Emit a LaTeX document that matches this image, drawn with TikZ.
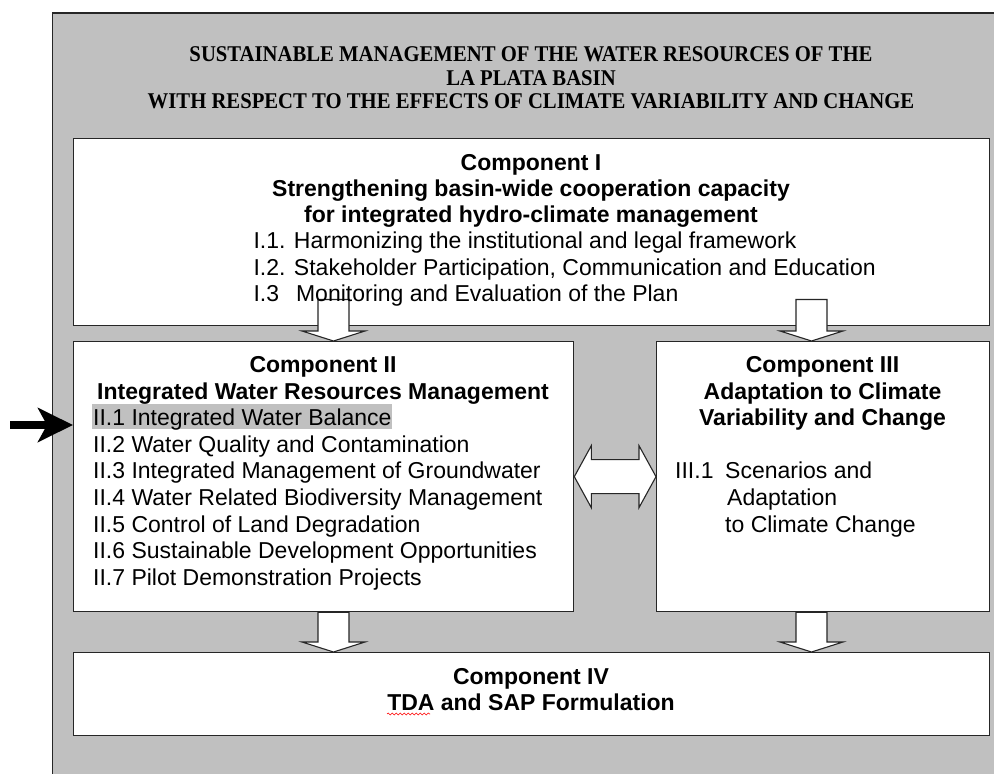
\documentclass[tikz,border=0pt]{standalone}
\usepackage{fontspec}
\setmainfont{Liberation Sans}
\newfontfamily\titlefont{Liberation Serif}[FakeStretch=0.92]
\usetikzlibrary{arrows.meta,calc,decorations.pathmorphing}

\definecolor{panelgrey}{HTML}{C0C0C0}
\definecolor{rim}{HTML}{262626}

\tikzset{
  panel/.style={draw=rim, line width=1.3pt, fill=white, anchor=north west, inner sep=0pt},
  title/.style={font=\titlefont\bfseries\fontsize{22.5}{23}\selectfont, anchor=base, inner sep=0pt},
  head/.style={font=\bfseries\fontsize{23}{26}\selectfont, anchor=base, inner sep=0pt},
  item/.style={font=\fontsize{23}{26}\selectfont, anchor=base west, inner sep=0pt},
  % hollow block arrows
  fat down/.style={draw=rim, line width=1.1pt, fill=white, to path={
    ($(\tikztostart)+(-15.5,0)$) -- ($(\tikztotarget)+(-15.5,-10)$) -- ++(-16,0)
    -- (\tikztotarget) -- ++(31.5,-10) -- ++(-16,0)
    -- ($(\tikztostart)+(15.5,0)$) -- cycle}},
  fat both/.style={draw=rim, line width=1.1pt, fill=white, to path={
    (\tikztostart) -- ++(17,-31) -- ++(0,14) -- ($(\tikztotarget)+(-17,-17)$)
    -- ++(0,-14) -- (\tikztotarget) -- ++(-17,31) -- ++(0,-14)
    -- ($(\tikztostart)+(17,17)$) -- ++(0,14) -- cycle}},
  pointer/.style={line width=8pt, -{Stealth[length=35pt, width=34pt, inset=9pt]}},
  squiggle/.style={red, line width=0.6pt, decorate, decoration={snake, amplitude=1pt, segment length=4pt}}
}

\begin{document}
\begin{tikzpicture}[x=1pt, y=-1pt]
  \useasboundingbox (0,0) rectangle (994,774);
  \draw[draw=rim, line width=1.3pt, fill=panelgrey] (52.7,13) rectangle (1010,790);

  % components
  \node[panel, minimum width=916pt, minimum height=187pt] (c1) at (73,138) {};
  \node[panel, minimum width=500pt, minimum height=270pt] (c2) at (73,341) {};
  \node[panel, minimum width=333pt, minimum height=270pt] (c3) at (656,341) {};
  \node[panel, minimum width=916pt, minimum height=83pt] (c4) at (73,652) {};
  \fill[panelgrey] (92,403.5) rectangle (392,429);

  % flows
  \coordinate (s1) at (333.5,299.5);
  \coordinate (s2) at (811.5,299.5);
  \draw[fat down] (s1) to (s1 |- c2.north);
  \draw[fat down] (s2) to (s2 |- c3.north);
  \draw[fat down] (s1 |- c2.south) to (s1 |- c4.north);
  \draw[fat down] (s2 |- c3.south) to (s2 |- c4.north);
  \draw[fat both] (c2.east) to (c3.west);
  \coordinate (pin) at (10,425);
  \draw[pointer] (pin) -- (pin -| c2.west);

  \foreach \t [count=\i] in {SUSTAINABLE MANAGEMENT OF THE WATER RESOURCES OF THE,
      LA PLATA BASIN, WITH RESPECT TO THE EFFECTS OF CLIMATE VARIABILITY AND CHANGE}
    \node[title] (title\i) at (531,38.4+23.3*\i) {\t};

  % component I
  \foreach \t [count=\i] in {Component I, Strengthening basin-wide cooperation capacity,
      for integrated hydro-climate management}
    \node[head] (h1\i) at (531,143.7+26.3*\i) {\t};
  \foreach \t [count=\i] in {I.1. Harmonizing the institutional and legal framework,
      {I.2. Stakeholder Participation, Communication and Education},
      I.3\hspace{17pt}Monitoring and Evaluation of the Plan}
    \node[item] (i1\i) at (253.3,222.6+26.3*\i) {\t};

  % component II
  \node[head] (h21) at (323,372.4) {Component II};
  \node[head] (h22) at (323,399) {Integrated Water Resources Management};
  \foreach \t [count=\i] in {II.1 Integrated Water Balance,
      II.2 Water Quality and Contamination,
      II.3 Integrated Management of Groundwater,
      II.4 Water Related Biodiversity Management,
      II.5 Control of Land Degradation,
      II.6 Sustainable Development Opportunities,
      II.7 Pilot Demonstration Projects}
    \node[item] (i2\i) at (93,399+26.6*\i) {\t};

  % component III
  \foreach \t [count=\i] in {Component III, Adaptation to Climate, Variability and Change}
    \node[head] (h3\i) at (822.5,345.8+26.6*\i) {\t};
  \node[item] (i31) at (675,478.8) {III.1};
  \node[item] (i32) at (725,478.8) {Scenarios and};
  \node[item] (i33) at (727,505.4) {Adaptation};
  \node[item] (i34) at (725,532) {to Climate Change};

  % component IV
  \node[head] (h41) at (531,684) {Component IV};
  \node[head] (h42) at (531,710) {TDA and SAP Formulation};
  \draw[squiggle] ($(h42.base west)+(0,4)$) -- ++(43,0);
\end{tikzpicture}
\end{document}
